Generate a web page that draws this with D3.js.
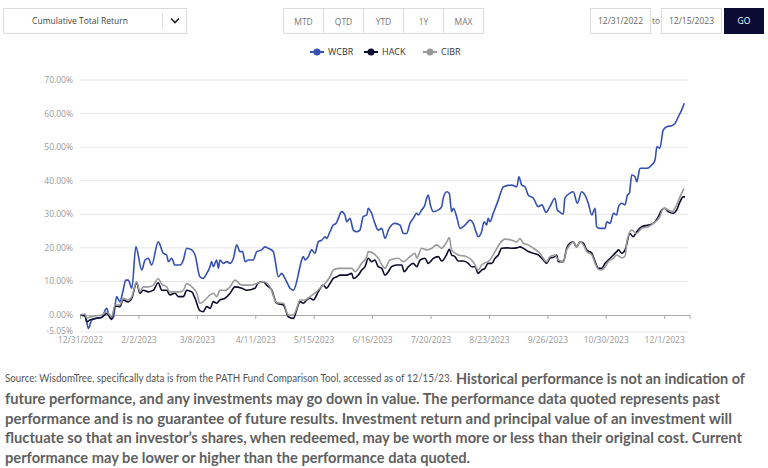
<!DOCTYPE html>
<html>
<head>
<meta charset="utf-8">
<script src="https://cdn.jsdelivr.net/npm/d3@7"></script>
<style>
  body { margin: 0; background: #fff; }
  svg { display: block; font-family: "Open Sans", "Noto Sans", sans-serif; }
</style>
</head>
<body>
<svg id="chart" width="768" height="468"></svg>
<script>
// trading-day index 0 = 12/31/2022
const tickDays = [0, 23, 46, 69, 92, 115, 138, 161, 184, 207, 230];
const tickLabels = ["12/31/2022", "2/2/2023", "3/8/2023", "4/11/2023", "5/15/2023", "6/16/2023",
                    "7/20/2023", "8/23/2023", "9/26/2023", "10/30/2023", "12/1/2023"];
const yTicks = [-5.05, 0, 10, 20, 30, 40, 50, 60, 70];
const seriesNames = ["WCBR", "HACK", "CIBR"];
const seriesColors = ["#3550b3", "#0c0c2e", "#9a9a9a"];

const wcbrDays = [0,2,3.3,4.6,6.3,8.5,10.5,11.8,13.1,14.4,15.7,17,18,19,20.4,22,24.3,25.6,26.9,28.2,30.8,32.8,34.1,34.8,36.1,37.4,39.4,40.7,42,44,45.3,47.2,48.5,49.9,51.2,51.8,52.5,53.8,54.5,55.1,56.4,57.8,59.1,60.4,61.7,63,64,65,66.3,68.2,69.6,71.5,72.8,74.1,76.1,76.8,78.1,79.4,80.7,82.7,84,85.3,86.6,87.9,88.6,89.9,91.2,92.5,93.8,95.2,96.5,97.1,98.4,99.7,100.8,101.7,103,104.3,105,106.3,107.6,108.9,110.2,111.5,112.9,113.5,114.8,116.1,117.4,118.8,120.1,121.4,122.7,124,126,127.3,128.6,129.9,131.2,132.6,133.2,134.5,135.8,136.5,137.1,138.1,139.1,141.1,142.4,143,144.4,145.4,146.3,147,148.3,149.6,150.9,152.2,153.5,154.8,155.9,156.8,158.1,159.1,160.1,160.7,161.4,162.7,164.7,166,166.7,170,172,172.8,173.9,175.2,176.5,178.5,180.4,181.8,183.5,185,187,187.9,188.7,190.3,190.9,192.9,194.2,195.8,197.5,198.8,200.1,201.5,202.8,203.4,204.7,206.7,207.4,208.7,210,211.3,212,213.3,214.6,215.5,216.3,217.2,218.5,219.2,220.5,223.1,225.1,226.4,227.1,228.3,229.6,231,233,234.3,235.6,236.9,237.9];
const wcbrValues = [0,0,-4.0,-1.5,-1.0,-0.7,2.0,-0.9,-0.9,5.5,4.0,7.4,10.4,10.4,8.0,20.3,13.4,16.4,16.9,14.9,21.8,18.4,17.9,15.9,16.9,14.9,14.9,16.4,19.9,19.4,17.9,11.4,10.9,12.4,14.4,15.9,14.4,16.4,13.9,16.4,15.4,15.9,15.4,16.9,20.9,18.9,18.9,15.9,16.4,16.4,18.9,19.4,20.3,19.9,18.9,16.4,11.4,12.4,10.9,8.0,7.4,9.9,14.4,17.4,16.4,17.4,19.4,18.4,21.8,22.3,23.3,22.8,24.8,26.8,27.3,28.8,30.8,29.8,27.8,28.8,25.3,24.8,25.3,29.3,29.8,31.8,30.3,27.3,25.3,25.8,22.8,25.3,26.8,27.3,26.8,24.3,24.3,27.3,28.8,30.3,29.8,31.3,32.8,34.8,35.7,32.3,30.8,31.3,32.3,34.8,36.7,36.2,30.8,31.8,29.3,25.8,26.3,27.3,28.3,27.3,24.8,23.3,24.8,27.8,26.8,28.8,27.8,30.3,34.3,37.2,38.2,38.7,38.2,41.2,38.7,38.2,35.7,34.8,32.3,32.8,30.6,32.3,34.8,31.3,30.8,30.1,34.8,36.3,36.7,33.3,36.7,35.7,33.3,29.8,31.8,26.3,25.8,25.8,27.8,27.3,30.3,29.8,32.3,33.3,32.8,35.7,36.3,41.7,41.2,39.7,43.7,43.7,44.7,46.2,50.1,49.7,55.1,56.1,56.4,57.1,59.1,61.1,63.1];

const hackDays = [0,2,2.6,3.9,5.9,8.5,10.5,11.8,12.5,13.8,15.7,17,19,20.4,22.3,23.6,24.9,26.9,28.9,30.8,32.2,34.1,35.4,37.4,38.7,40.7,42,44,45.3,47.2,48.5,49.9,51.2,52.5,53.8,55.1,57.1,59.1,61,63.7,65.6,68.9,70.2,72.2,73.5,75.5,77.4,80.1,82,84,85.3,86.6,87.9,89.3,90.6,91.9,93.8,95.8,97.1,98.4,99.7,101.1,102.4,105,107,107.6,109.6,110.9,112.2,113.5,114.8,116.1,117.4,118.8,120.1,121.4,122.7,124.7,126.7,127.6,129.3,131.2,132.6,133.9,135.8,137.1,139.1,141.1,142.4,144.4,145.4,146.3,147.6,148.9,150.9,152.9,154.2,155.5,156.8,158.1,159.4,160.7,162.1,163.4,164.7,166,168,170,172,173.2,174.5,176.5,178.5,180.4,182.4,183.7,185,187,187.7,188.3,190.3,191.6,192.9,194.2,195.5,196.9,198.2,199.5,201.5,202.8,204.1,205.4,206.7,208,210,211.3,212,213.3,214.6,216.5,217.8,219.2,221.1,223.8,225.7,227.7,229,230.3,231.6,233.6,234.9,236.2,237.5,238.2];
const hackValues = [0,-0.3,-2.0,-1.5,-1.0,-0.7,0.5,-0.7,-1.3,2.7,2.5,4.5,3.9,5.0,9.6,6.5,7.4,6.9,7.4,9.6,7.4,7.4,6.0,6.5,5.5,5.5,7.4,6.9,5.0,1.3,1.0,2.5,2.0,4.0,3.5,4.5,5.0,6.5,8.4,8.0,7.4,8.0,9.6,9.9,8.9,7.4,3.5,3.0,-0.5,-1.0,1.5,4.0,3.5,4.5,5.0,4.5,6.9,8.9,8.0,9.4,10.9,11.4,11.9,11.9,12.4,10.9,11.9,13.4,14.4,16.9,15.9,16.4,14.4,13.9,11.9,12.9,14.4,14.9,14.9,12.9,14.4,15.4,14.4,16.4,16.9,15.4,16.9,17.4,16.1,18.1,19.6,17.9,17.4,16.1,16.1,15.4,14.4,14.4,12.4,13.4,13.9,15.4,15.4,16.9,17.9,19.9,20.0,19.9,20.0,20.3,19.9,18.9,18.4,17.9,16.4,15.4,16.9,17.4,17.9,15.9,15.9,19.9,21.4,21.8,20.3,21.8,21.4,19.4,18.4,15.9,13.9,13.9,15.4,16.4,17.9,18.9,19.4,18.4,19.4,24.3,23.3,24.8,26.3,26.8,27.3,29.3,31.3,31.8,30.8,30.3,31.3,33.7,35.2,35.2];

const cibrDays = [0,2,2.6,3.9,5.9,8.5,10.5,11.8,12.5,13.8,15.7,17,19,20.4,22.3,23.6,24.9,26.9,28.9,30.8,32.2,34.1,35.4,37.4,39.4,40.7,42,44,46,47.2,48.5,49.9,51.2,52.5,53.8,55.1,57.1,59.1,61,63.7,67,69.6,72.2,74.8,77.4,80.1,82,84,85.3,86.6,88.6,90.6,92.5,94.5,96.5,98.4,99.7,101.7,107,108.3,110.9,112.9,113.5,115.5,117.4,120.1,122,125.3,127.3,129.9,131.9,132.6,134.5,136.5,138.5,140.4,142.4,144.4,145.4,146.3,148.9,152.2,154.8,156.8,158.1,161.4,163.4,165.4,167.3,170,172,173.2,174.5,176.5,178.5,181.1,183.7,185,187,188.3,190.3,191.6,192.9,194.2,195.5,196.9,198.2,199.5,201.5,202.8,204.1,205.4,206.7,208,210,211.3,213.3,214.6,215.4,217.2,219.2,221.1,223.8,225.7,228.3,229.6,231.6,233,234.9,236.2,237.8];
const cibrValues = [0,0.3,-0.9,-0.6,-0.3,0,0.9,0,-0.6,3.0,3.0,5.0,4.5,5.5,9.9,6.9,8.4,8.4,8.9,10.9,9.2,8.4,6.9,6.9,6.9,7.4,9.4,8.4,6.5,3.5,4.0,5.0,6.0,6.5,5.5,7.4,7.4,8.4,10.4,8.9,8.9,9.4,9.9,8.4,3.7,3.5,0,0,2.0,4.5,4.5,5.5,6.5,8.0,9.4,11.4,13.4,13.9,13.9,12.9,15.4,17.4,18.9,18.4,16.9,13.9,16.4,16.9,15.9,17.4,18.4,16.9,19.9,19.4,19.9,20.9,19.9,21.8,23.1,19.4,17.9,17.4,15.9,13.4,14.9,16.4,18.9,21.4,22.6,22.3,21.8,22.8,21.4,20.9,19.9,18.4,15.9,17.4,17.9,16.4,15.9,19.4,20.9,21.8,20.3,21.8,20.9,18.9,17.9,15.4,13.6,13.4,14.4,15.9,16.9,17.9,17.0,17.6,22.3,25.3,24.3,25.8,26.3,27.3,29.3,31.8,31.3,30.8,32.8,35.2,37.7];

const seriesData = [
  d3.zip(wcbrDays, wcbrValues),
  d3.zip(hackDays, hackValues),
  d3.zip(cibrDays, cibrValues)
];

const periodButtons = ["MTD", "QTD", "YTD", "1Y", "MAX"];
const footerLines = [
  "future performance, and any investments may go down in value. The performance data quoted represents past",
  "performance and is no guarantee of future results. Investment return and principal value of an investment will",
  "fluctuate so that an investor\u2019s shares, when redeemed, may be worth more or less than their original cost. Current",
  "performance may be lower or higher than the performance data quoted."
];

const svg = d3.select("#chart");

const x = d3.scaleLinear().domain([0, 240]).range([80, 689.6]);
const y = d3.scaleLinear().domain([-5.05, 70]).range([332, 80]);

// ---- top controls ----
const controls = svg.append("g").attr("class", "controls");
controls.append("rect").attr("x", 3.5).attr("y", 8.5).attr("width", 183).attr("height", 25)
   .attr("fill", "#fff").attr("stroke", "#dcdcdc");
controls.append("text").attr("x", 80).attr("y", 24).attr("text-anchor", "middle")
   .attr("font-size", 8.5).attr("fill", "#444").text("Cumulative Total Return");
controls.append("line").attr("x1", 162.5).attr("x2", 162.5).attr("y1", 13).attr("y2", 29).attr("stroke", "#ddd");
controls.append("path").attr("d", "M171,18.5 L175,22.5 L179,18.5").attr("fill", "none")
   .attr("stroke", "#222").attr("stroke-width", 1.6);

const btn = controls.selectAll(".btn").data(periodButtons).enter().append("g").attr("class", "btn")
   .attr("transform", (d, i) => `translate(${283.5 + i * 40},8.5)`);
btn.append("rect").attr("width", 40).attr("height", 25).attr("fill", "#fff").attr("stroke", "#dcdcdc");
btn.append("text").attr("x", 20).attr("y", 16).attr("text-anchor", "middle")
   .attr("font-size", 8.5).attr("fill", "#777").text(d => d);

controls.append("rect").attr("x", 590.5).attr("y", 8.5).attr("width", 60).attr("height", 25)
   .attr("fill", "#fff").attr("stroke", "#dcdcdc");
controls.append("text").attr("x", 620.5).attr("y", 24).attr("text-anchor", "middle")
   .attr("font-size", 8.5).attr("fill", "#666").text("12/31/2022");
controls.append("text").attr("x", 656).attr("y", 24).attr("text-anchor", "middle")
   .attr("font-size", 8.5).attr("fill", "#666").text("to");
controls.append("rect").attr("x", 661.5).attr("y", 8.5).attr("width", 60).attr("height", 25)
   .attr("fill", "#fff").attr("stroke", "#dcdcdc");
controls.append("text").attr("x", 691.5).attr("y", 24).attr("text-anchor", "middle")
   .attr("font-size", 8.5).attr("fill", "#666").text("12/15/2023");
controls.append("rect").attr("x", 724).attr("y", 8).attr("width", 40).attr("height", 26).attr("fill", "#0b0b33");
controls.append("text").attr("x", 744).attr("y", 24).attr("text-anchor", "middle")
   .attr("font-size", 8.5).attr("fill", "#fff").text("GO");

// ---- legend ----
const legendX = [310, 364, 423];
const leg = svg.selectAll(".legend").data(seriesNames).enter().append("g").attr("class", "legend")
   .attr("transform", (d, i) => `translate(${legendX[i]},52)`);
leg.append("line").attr("x1", 0).attr("x2", 14).attr("stroke", (d, i) => seriesColors[i]).attr("stroke-width", 2);
leg.append("circle").attr("cx", 7).attr("r", 3.5).attr("fill", (d, i) => seriesColors[i]);
leg.append("text").attr("x", 18).attr("y", 3.3).attr("font-size", 9).attr("fill", "#333").text(d => d);

// ---- grid and y labels ----
svg.append("g").selectAll("line").data(yTicks.filter(d => d !== 0)).enter().append("line")
   .attr("x1", 80).attr("x2", 688).attr("y1", d => y(d)).attr("y2", d => y(d))
   .attr("stroke", "#e6e6e6");

svg.append("g").selectAll("text").data(yTicks).enter().append("text")
   .attr("x", 73).attr("y", d => y(d) + (d < 0 ? 1.5 : 3)).attr("text-anchor", "end")
   .attr("font-size", 8.5).attr("fill", "#999")
   .text(d => d.toFixed(2) + "%");

// ---- x axis on the zero line ----
const xAxis = d3.axisBottom(x).tickValues(tickDays)
   .tickFormat((d, i) => tickLabels[i]).tickSize(4).tickPadding(18);
const xg = svg.append("g").attr("transform", `translate(0,${y(0)})`).call(xAxis);
xg.select(".domain").attr("stroke", "#aaa");
xg.selectAll(".tick line").attr("stroke", "#aaa");
xg.selectAll(".tick text").attr("fill", "#999").attr("font-size", 8.5)
   .attr("font-family", "'Open Sans', 'Noto Sans', sans-serif");

// ---- lines ----
const line = d3.line().x(d => x(d[0])).y(d => y(d[1])).curve(d3.curveMonotoneX);
svg.append("g").selectAll("path").data(seriesData).enter().append("path")
   .attr("d", line).attr("fill", "none")
   .attr("stroke", (d, i) => seriesColors[i]).attr("stroke-width", 1.6)
   .attr("stroke-linejoin", "round");

// ---- footer ----
const foot = svg.append("g").attr("font-family", "Lato, 'Noto Sans', sans-serif");
foot.append("text").attr("x", 5).attr("y", 382).attr("font-size", 10.5).attr("fill", "#555")
   .attr("textLength", 447).attr("lengthAdjust", "spacingAndGlyphs")
   .text("Source: WisdomTree, specifically data is from the PATH Fund Comparison Tool, accessed as of 12/15/23.");
foot.append("text").attr("x", 456).attr("y", 384).attr("font-size", 15).attr("font-weight", 700).attr("fill", "#5f5f5f")
   .attr("textLength", 289).attr("lengthAdjust", "spacingAndGlyphs")
   .text("Historical performance is not an indication of");
const footWidths = [715, 727, 737, 465];
foot.selectAll(".fl").data(footerLines).enter().append("text").attr("class", "fl")
   .attr("x", 5).attr("y", (d, i) => 404 + i * 19.7)
   .attr("font-size", 15).attr("font-weight", 700).attr("fill", "#5f5f5f")
   .attr("textLength", (d, i) => footWidths[i]).attr("lengthAdjust", "spacingAndGlyphs")
   .text(d => d);
</script>
</body>
</html>
